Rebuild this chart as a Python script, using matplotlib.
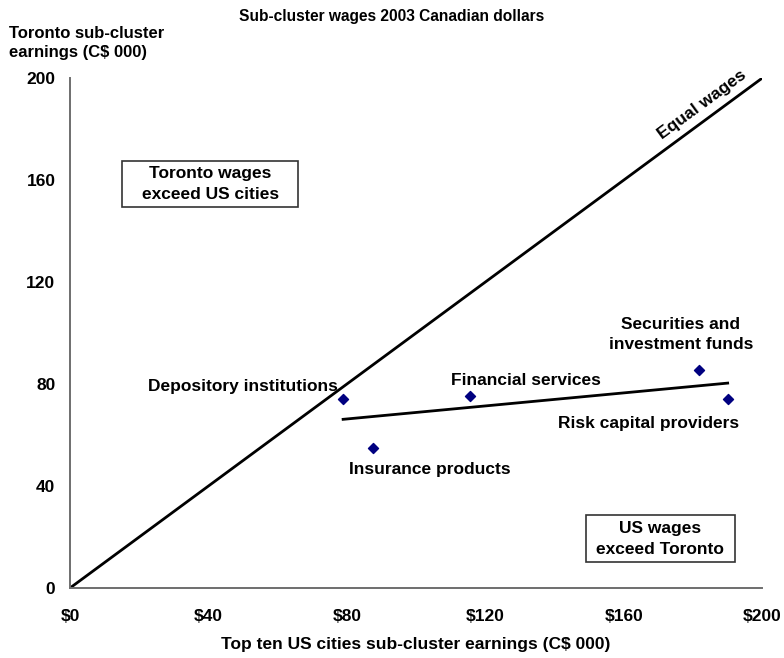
import numpy as np
import matplotlib.pyplot as plt
from matplotlib.patches import Rectangle

plt.rcParams['font.family'] = ['Liberation Sans', 'DejaVu Sans']
plt.rcParams['font.weight'] = 'bold'

# Sub-cluster earnings (C$ 000)
names = ['Depository institutions', 'Insurance products', 'Financial services',
         'Securities and\ninvestment funds', 'Risk capital providers']
us_wages = [78.9, 87.5, 115.6, 181.8, 190.0]
toronto_wages = [74.1, 54.9, 75.3, 85.5, 74.1]
x_ticks = [0, 40, 80, 120, 160, 200]
y_ticks = [0, 40, 80, 120, 160, 200]

fig = plt.figure(figsize=(7.84, 6.58), dpi=100)
ax = fig.add_axes([0.0893, 0.1064, 0.883, 0.775])

# equal wages line
ax.plot([0, 200], [0, 200], color='black', lw=2)

# trend line through the points
coef = np.polyfit(us_wages, toronto_wages, 1)
xs = np.array([min(us_wages), max(us_wages)])
ax.plot(xs, np.polyval(coef, xs), color='black', lw=2)

ax.scatter(us_wages, toronto_wages, marker='D', s=26, color='#000080', zorder=3)

fs = 12.5

# point labels
label_pos = [(77.3, 79.2, 'right'), (104, 46.5, 'center'), (131.8, 81.5, 'center'),
             (176.5, 99.3, 'center'), (167.1, 64.5, 'center')]
for name, (lx, ly, ha) in zip(names, label_pos):
    ax.text(lx, ly, name, ha=ha, va='center', fontsize=fs, fontweight='bold',
            linespacing=1.45)

ax.text(182.5, 189.5, 'Equal wages', rotation=45, rotation_mode='anchor',
        transform_rotates_text=True, ha='center', va='center',
        fontsize=fs, fontweight='bold')

# region boxes
ax.add_patch(Rectangle((15.0, 149.4), 51.0, 18.2, fc='white', ec='#333333', lw=1.2, zorder=2))
ax.add_patch(Rectangle((149.0, 10.2), 43.2, 18.4, fc='white', ec='#333333', lw=1.2, zorder=2))
ax.text(40.5, 158.5, 'Toronto wages\nexceed US cities', ha='center', va='center',
        fontsize=fs, fontweight='bold', linespacing=1.5, zorder=3)
ax.text(170.4, 19.4, 'US wages\nexceed Toronto', ha='center', va='center',
        fontsize=fs, fontweight='bold', linespacing=1.5, zorder=3)

ax.set_xlim(0, 200)
ax.set_ylim(0, 200)
ax.set_xticks(x_ticks)
ax.set_xticklabels(['${}'.format(t) for t in x_ticks])
ax.set_yticks(y_ticks)
ax.tick_params(length=0, labelsize=fs, pad=15)
ax.tick_params(axis='y', pad=10.5)
for lab in ax.get_xticklabels() + ax.get_yticklabels():
    lab.set_fontweight('bold')

for s in ['top', 'right']:
    ax.spines[s].set_visible(False)
for s in ['left', 'bottom']:
    ax.spines[s].set_color('#6e6e6e')
    ax.spines[s].set_linewidth(1.4)

fig.text(0.5, 0.975, 'Sub-cluster wages 2003 Canadian dollars', ha='center', va='center',
         fontsize=11.2, fontweight='bold')
fig.text(0.012, 0.935, 'Toronto sub-cluster\nearnings (C$ 000)', ha='left', va='center',
         fontsize=12, fontweight='bold', linespacing=1.35)
fig.text(0.53, 0.02, 'Top ten US cities sub-cluster earnings (C$ 000)', ha='center',
         va='center', fontsize=12.5, fontweight='bold')

fig.savefig('out.png', dpi=100)
